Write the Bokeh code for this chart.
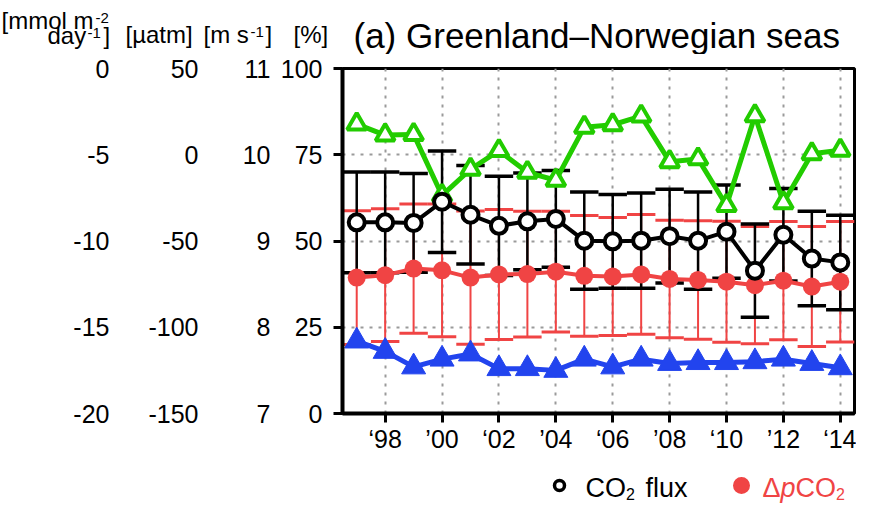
import numpy as np
from bokeh.plotting import figure
from bokeh.layouts import column
from bokeh.models import Range1d, LinearAxis, FixedTicker, Label
from bokeh.embed import file_html
from bokeh.resources import INLINE

# ---------------- data ----------------
years = list(range(1997, 2015))
co2_flux = [-8.92, -8.92, -8.95, -7.72, -8.48, -9.12, -8.86, -8.72, -9.98,
            -10.02, -9.98, -9.72, -9.98, -9.46, -11.72, -9.64, -11.02, -11.24]
co2_flux_sd = [2.92, 2.92, 2.86, 2.94, 2.86, 2.88, 2.80, 2.80, 2.82,
               2.72, 2.76, 2.72, 2.82, 2.70, 2.70, 2.68, 2.74, 2.74]
dpco2 = [-71.2, -69.8, -66.0, -67.0, -71.2, -69.4, -69.2, -67.8, -70.2,
         -70.6, -69.4, -72.0, -72.6, -73.6, -75.6, -73.0, -76.4, -73.6]
dpco2_sd = [38.8, 38.5, 37.5, 38.5, 38.6, 37.7, 36.4, 35.0, 35.0,
            34.2, 34.7, 34.1, 34.4, 35.1, 34.0, 34.3, 34.8, 34.9]
wind = [7.84, 7.72, 7.54, 7.63, 7.69, 7.52, 7.52, 7.50, 7.63,
        7.54, 7.63, 7.58, 7.59, 7.59, 7.60, 7.63, 7.58, 7.53]
percent = [83.9, 80.7, 80.9, 63.2, 70.8, 76.2, 69.9, 67.6, 83.0,
           83.7, 86.2, 73.0, 73.8, 60.3, 86.3, 61.1, 75.3, 76.3]

year_ticks = [1998, 2000, 2002, 2004, 2006, 2008, 2010, 2012, 2014]
year_labels = ["\u201898", "\u201900", "\u201802", "\u201904", "\u201806",
               "\u201908", "\u201810", "\u201912", "\u201814"]
flux_ticks = [-20, -15, -10, -5, 0]
flux_labels = ["-20", "-15", "-10", "-5", "0"]
pco2_ticks = [-150, -100, -50, 0, 50]
pco2_labels = ["-150", "-100", "-50", "0", "50"]
wind_ticks = [7, 8, 9, 10, 11]
wind_labels = ["7", "8", "9", "10", "11"]
pct_ticks = [0, 25, 50, 75, 100]
pct_labels = ["0", "25", "50", "75", "100"]

# ---------------- styling ----------------
FONT = "Liberation Sans"
RED = "#F04444"
BLUE = "#2244EE"
GREEN = "#22CC00"
W = 856
HEAD_H, MAIN_H, LEG_H = 54, 401, 49
X0, X1 = 1996.5, 2014.5
DESC = 0.21   # descent fraction used to place alphabetic baselines
OFF = 3       # observed vertical shift inside the text strips


def blank_fig(h):
    f = figure(width=W, height=h, output_backend="svg", toolbar_location=None,
               x_range=Range1d(0, W), y_range=Range1d(h, 0),
               x_axis_type=None, y_axis_type=None,
               min_border=0, min_border_left=0, min_border_right=0,
               min_border_top=0, min_border_bottom=0, frame_align=False)
    f.outline_line_color = None
    f.background_fill_color = "white"
    f.border_fill_color = "white"
    return f


def txt(f, s, x, base, size, color="black", style="normal"):
    f.add_layout(Label(x=x, y=base - DESC * size - OFF, text=s, text_font=FONT,
                       text_font_size=f"{size}px", text_color=color,
                       text_font_style=style, text_align="left",
                       text_baseline="alphabetic"))


# ---------------- header (units + title) ----------------
head = blank_fig(HEAD_H)
txt(head, "[mmol m", 1, 28, 24)
txt(head, "-2", 95, 24, 15)
txt(head, "day", 47, 43, 24)
txt(head, "-1", 87, 39, 15)
txt(head, "]", 103, 43, 24)
txt(head, "[\u00b5atm]", 125, 42, 24)
txt(head, "[m s", 203, 42, 24)
txt(head, "-1", 250, 38, 15)
txt(head, "]", 265, 42, 24)
txt(head, "[%]", 293, 42, 24)
txt(head, "(a) Greenland\u2013Norwegian seas", 353, 45.5, 35)

# ---------------- main plot ----------------
p = figure(width=W, height=MAIN_H, output_backend="svg", toolbar_location=None,
           x_range=Range1d(X0, X1), y_range=Range1d(0, 100),
           min_border_left=342, min_border_right=2,
           min_border_top=14, min_border_bottom=38, frame_align=False)
p.background_fill_color = "white"
p.border_fill_color = "white"
p.outline_line_color = "black"
p.outline_line_width = 3

p.extra_y_ranges = {"flux": Range1d(-20, 0), "pco2": Range1d(-150, 50),
                    "wind": Range1d(7, 11)}


def style_axis(ax, ticks, labels, standoff, tick_out=0, line=False):
    ax.ticker = FixedTicker(ticks=ticks, minor_ticks=[])
    ax.major_label_overrides = dict(zip(ticks, labels))
    ax.major_label_standoff = standoff
    ax.major_tick_out = tick_out
    ax.major_tick_in = 0
    ax.minor_tick_out = 0
    ax.minor_tick_in = 0
    ax.major_label_text_font = FONT
    ax.major_label_text_font_size = "25px"
    ax.major_label_text_color = "black"
    ax.major_tick_line_width = 3
    ax.major_tick_line_color = "black" if tick_out else None
    if line:
        ax.axis_line_width = 4
        ax.axis_line_color = "black"
    else:
        ax.axis_line_color = None


style_axis(p.yaxis[0], pct_ticks, pct_labels, 11, tick_out=9, line=True)
ax_w = LinearAxis(y_range_name="wind")
p.add_layout(ax_w, "left")
style_axis(ax_w, wind_ticks, wind_labels, 7)
ax_c = LinearAxis(y_range_name="pco2")
p.add_layout(ax_c, "left")
style_axis(ax_c, pco2_ticks, pco2_labels, 41)
ax_f = LinearAxis(y_range_name="flux")
p.add_layout(ax_f, "left")
style_axis(ax_f, flux_ticks, flux_labels, 36)

style_axis(p.xaxis[0], year_ticks, year_labels, 2, tick_out=9, line=True)

for g, tk in ((p.xgrid[0], year_ticks), (p.ygrid[0], pct_ticks)):
    g.ticker = FixedTicker(ticks=tk, minor_ticks=[])
    g.grid_line_color = "#9a9a9a"
    g.grid_line_dash = "3 6"
    g.grid_line_width = 2

yrs = np.array(years, dtype=float)
fl = np.array(co2_flux)
fsd = np.array(co2_flux_sd)
pc = np.array(dpco2)
psd = np.array(dpco2_sd)
CAP = 0.5

# dpCO2 error bars
p.segment(x0=yrs, y0=pc - psd, x1=yrs, y1=pc + psd, y_range_name="pco2",
          line_color=RED, line_width=2)
p.segment(x0=np.concatenate([yrs - CAP, yrs - CAP]),
          x1=np.concatenate([yrs + CAP, yrs + CAP]),
          y0=np.concatenate([pc + psd, pc - psd]),
          y1=np.concatenate([pc + psd, pc - psd]),
          y_range_name="pco2", line_color=RED, line_width=3)
# CO2 flux error bars
p.segment(x0=yrs, y0=fl - fsd, x1=yrs, y1=fl + fsd, y_range_name="flux",
          line_color="black", line_width=2.5)
p.segment(x0=np.concatenate([yrs - CAP, yrs - CAP]),
          x1=np.concatenate([yrs + CAP, yrs + CAP]),
          y0=np.concatenate([fl + fsd, fl - fsd]),
          y1=np.concatenate([fl + fsd, fl - fsd]),
          y_range_name="flux", line_color="black", line_width=3.5)

# wind (blue)
p.line(yrs, wind, y_range_name="wind", line_color=BLUE, line_width=5)
p.scatter(yrs, wind, y_range_name="wind", marker="triangle", size=24,
          fill_color=BLUE, line_color=BLUE, line_width=1)
# percent (green)
p.line(yrs, percent, line_color=GREEN, line_width=5)
p.scatter(yrs, percent, marker="triangle", size=19, fill_color="white",
          line_color=GREEN, line_width=4)
# dpCO2 (red)
p.line(yrs, pc, y_range_name="pco2", line_color=RED, line_width=4)
p.scatter(yrs, pc, y_range_name="pco2", marker="circle", size=18,
          fill_color=RED, line_color=None)
# CO2 flux (black)
p.line(yrs, fl, y_range_name="flux", line_color="black", line_width=4)
p.scatter(yrs, fl, y_range_name="flux", marker="circle", size=16,
          fill_color="white", line_color="black", line_width=4)

# ---------------- legend strip ----------------
leg = blank_fig(LEG_H)
leg.scatter(x=[559], y=[33 - OFF], marker="circle", size=10, fill_color="white",
            line_color="black", line_width=3.5)
leg.scatter(x=[741], y=[33 - OFF], marker="circle", size=17, fill_color=RED,
            line_color=None)
txt(leg, "CO", 585, 41, 27)
txt(leg, "2", 625.5, 45, 16)
txt(leg, "flux", 645, 41, 27)
txt(leg, "\u0394", 762, 41, 27, color=RED)
txt(leg, "p", 780, 41, 27, color=RED, style="italic")
txt(leg, "CO", 795, 41, 27, color=RED)
txt(leg, "2", 835.5, 45, 16, color=RED)

layout = column(head, p, leg, spacing=0)
open("out.html", "w").write(file_html(layout, INLINE, "chart"))
